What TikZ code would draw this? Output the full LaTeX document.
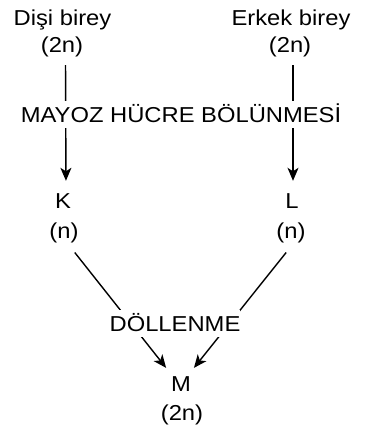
\documentclass[tikz,border=0pt]{standalone}
\usepackage{fontspec}
\setmainfont{Liberation Sans}[FakeStretch=1.1]
\usetikzlibrary{arrows.meta}
\tikzset{
  txt/.style={anchor=base, inner sep=0pt, text height=15.5pt, text depth=4.5pt,
    font=\fontsize{21.6}{26}\selectfont},
  lbl/.style={txt, fill=white, text depth=0pt, inner xsep=0pt, inner ysep=5.5pt},
  conn/.style={line width=1.4pt, draw=black},
  arr/.style={conn, -{Stealth[length=13pt,width=11pt,inset=3.5pt]}}
}
\begin{document}
\begin{tikzpicture}[x=1pt,y=-1pt]
\useasboundingbox (0,0) rectangle (371,433);
% text nodes
\node[txt] (dis)   at (62.5,26) {Dişi birey};
\node[txt] (dis2n) at (62,53)   {(2n)};
\node[txt] (erk)   at (291,26)  {Erkek birey};
\node[txt] (erk2n) at (290,53)  {(2n)};
\node[txt] (K)     at (63,208)  {K};
\node[txt] (Kn)    at (64,238)  {(n)};
\node[txt] (L)     at (292,208) {L};
\node[txt] (Ln)    at (291,238) {(n)};
\node[txt] (M)     at (181,391) {M};
\node[txt] (M2n)   at (182,420) {(2n)};
% connectors
\draw[arr, shorten <=7.5pt, shorten >=11.5pt] ([xshift=3.5pt]dis2n.south) -- ([xshift=3pt]K.north);
\draw[arr, shorten <=7.5pt, shorten >=11.5pt] ([xshift=3pt]erk2n.south) -- ([xshift=1pt]L.north);
\draw[arr, shorten <=12.5pt, shorten >=9.5pt] ([xshift=3pt]Kn.south) -- ([xshift=-9pt]M.north);
\draw[arr, shorten <=12.5pt, shorten >=9.5pt] ([xshift=3pt]Ln.south) -- ([xshift=7pt]M.north);
% labels on connectors
\node[lbl] (mayoz) at (181,122) {MAYOZ HÜCRE BÖLÜNMESİ};
\node[lbl] (dol)   at (175,331) {DÖLLENME};
\end{tikzpicture}
\end{document}
